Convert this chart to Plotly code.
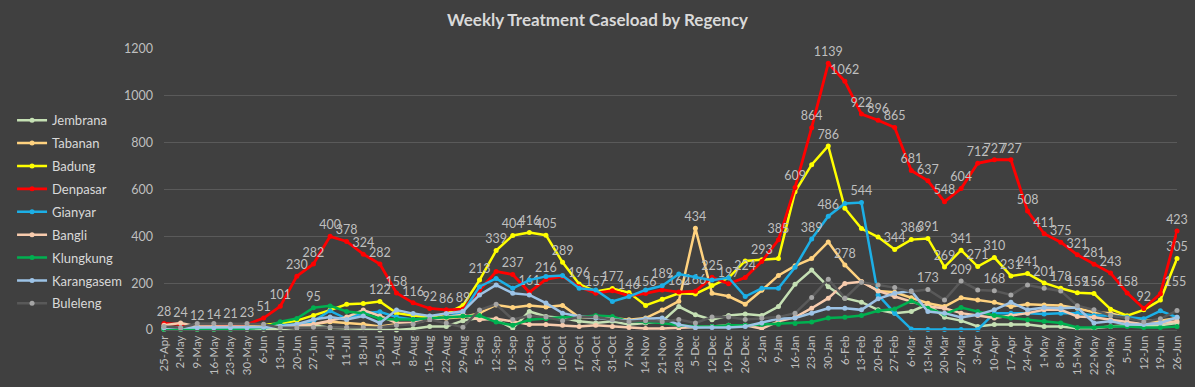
import plotly.graph_objects as go

dates = ["25-Apr","2-May","9-May","16-May","23-May","30-May","6-Jun","13-Jun","20-Jun","27-Jun",
         "4-Jul","11-Jul","18-Jul","25-Jul","1-Aug","8-Aug","15-Aug","22-Aug","29-Aug","5-Sep",
         "12-Sep","19-Sep","26-Sep","3-Oct","10-Oct","17-Oct","24-Oct","31-Oct","7-Nov","14-Nov",
         "21-Nov","28-Nov","5-Dec","12-Dec","19-Dec","26-Dec","2-Jan","9-Jan","16-Jan","23-Jan",
         "30-Jan","6-Feb","13-Feb","20-Feb","27-Feb","6-Mar","13-Mar","20-Mar","27-Mar","3-Apr",
         "10-Apr","17-Apr","24-Apr","1-May","8-May","15-May","22-May","29-May","5-Jun","12-Jun",
         "19-Jun","26-Jun"]

jembrana = [3,3,3,3,3,3,3,3,10,20,10,8,5,0,0,5,15,15,40,
            51,44,8,79,58,51,37,30,37,23,30,37,100,65,44,62,68,62,100,
            195,256,185,136,119,86,72,79,110,54,40,15,23,23,23,15,15,8,8,15,20,15,20,30]
tabanan = [5,5,5,5,8,10,15,18,20,25,35,30,25,15,25,30,45,50,55,
           72,107,96,105,98,105,54,54,51,44,51,85,123,434,157,144,110,170,233,
           274,305,376,278,207,167,161,138,114,100,138,128,118,100,110,107,105,93,76,72,54,40,40,51]
badung = [10,8,8,8,10,15,22,28,40,62,85,110,113,122,72,62,55,70,105,
          213,339,404,416,405,289,196,165,177,160,105,131,157,154,190,223,295,300,305,
          590,706,786,520,433,397,344,386,391,269,341,271,310,231,241,201,178,159,156,89,61,86,128,305]
denpasar = [28,24,12,14,21,23,51,101,230,282,400,378,324,282,158,116,92,86,89,
            170,250,237,161,216,229,185,157,168,146,156,171,162,166,225,197,224,293,385,
            609,864,1139,1062,922,896,865,681,637,548,604,712,727,727,508,411,375,321,281,243,158,92,155,423]
gianyar = [8,8,10,8,8,10,10,20,25,38,82,48,72,78,55,45,45,55,75,
           185,220,178,213,229,233,178,171,122,143,171,189,239,227,213,223,143,178,178,
           268,389,486,540,544,150,72,4,2,2,2,2,72,72,72,68,72,72,62,62,54,48,82,54]
bangli = [20,30,15,15,15,15,15,15,20,25,40,55,85,60,30,30,45,55,65,
          44,48,37,23,23,20,15,20,15,11,6,6,8,11,15,20,20,6,37,
          54,93,136,199,206,167,143,122,100,93,72,62,51,62,72,86,86,58,54,44,34,25,30,37]
klungkung = [3,3,3,3,3,5,10,35,49,95,103,79,72,48,45,45,50,55,60,
             62,34,20,44,48,54,54,62,58,37,34,30,20,15,15,20,20,23,25,
             28,34,51,54,62,82,90,124,93,68,96,79,62,51,44,37,30,11,11,15,15,11,11,15]
karangasem = [10,10,10,10,10,10,12,15,25,45,55,45,60,30,85,70,60,70,80,
              150,192,157,150,115,72,58,51,44,40,48,51,23,11,11,11,15,30,48,
              51,72,93,93,86,133,157,167,79,72,54,65,86,118,86,96,93,96,30,37,23,23,30,54]
buleleng = [15,10,28,28,25,28,25,10,10,12,12,12,12,12,20,25,45,30,12,
            85,110,45,60,55,40,55,55,45,35,40,35,45,30,55,55,45,50,55,
            72,139,217,136,204,192,181,164,173,128,209,171,168,150,192,178,167,104,86,62,51,34,48,83]

# indices of points that carry a data label in the original
label_idx = {
    "Denpasar": list(range(0, 19)) + [21, 22, 23, 26, 28, 29, 31, 32, 33, 34, 35, 36, 37] + list(range(38, 62)),
    "Badung": [13, 19, 20, 21, 22, 23, 24, 25, 27, 40, 44, 45, 46, 47, 48, 49, 50, 51, 52, 53, 54, 55, 56, 61],
    "Gianyar": [30, 39, 40, 42],
    "Tabanan": [32, 41],
    "Klungkung": [9],
    "Buleleng": [46, 48, 50],
}

series = [
    ("Jembrana", jembrana, "#C5E0B4", "#C5E0B4"),
    ("Tabanan", tabanan, "#FFD27F", "#FFD27F"),
    ("Badung", badung, "#FFFF00", "#FFFF00"),
    ("Denpasar", denpasar, "#FF0000", "#FF0000"),
    ("Gianyar", gianyar, "#1CAFE6", "#1CAFE6"),
    ("Bangli", bangli, "#F8CBAD", "#F8CBAD"),
    ("Klungkung", klungkung, "#00B050", "#00B050"),
    ("Karangasem", karangasem, "#9DC3E6", "#9DC3E6"),
    ("Buleleng", buleleng, "#595959", "#A5A5A5"),
]

fig = go.Figure()
for name, vals, lc, mc in series:
    idx = set(label_idx.get(name, []))
    text = [str(v) if i in idx else "" for i, v in enumerate(vals)]
    pos = ["top center"] * len(vals)
    if name == "Denpasar":
        pos[60] = "top right"
    fig.add_trace(go.Scatter(
        x=dates, y=vals, name=name, legendgroup=name,
        mode="lines+markers+text",
        line=dict(color=lc, width=2.8 if name == "Denpasar" else 2.5),
        marker=dict(color=mc, size=5),
        text=text, textposition=pos,
        textfont=dict(color="#BFBFBF", size=12.5, family="Lato, Noto Sans, sans-serif"),
        cliponaxis=False,
    ))

fig.update_layout(
    width=1195, height=387,
    paper_bgcolor="#404040", plot_bgcolor="#404040",
    margin=dict(l=152, r=15, t=49, b=55),
    title=dict(text="<b>Weekly Treatment Caseload by Regency</b>",
               x=0.5, xref="container", xanchor="center", y=0.948, yref="container", yanchor="middle",
               font=dict(color="#D9D9D9", size=17, family="Lato, Noto Sans, sans-serif")),
    font=dict(family="Lato, Noto Sans, sans-serif", color="#BFBFBF"),
    showlegend=True,
    legend=dict(x=-0.15, xref="paper", xanchor="left", y=0.80, yref="paper", yanchor="top",
                bgcolor="rgba(0,0,0,0)", font=dict(color="#D9D9D9", size=13),
                tracegroupgap=3, itemwidth=30),
    xaxis=dict(type="category", range=[0, 61], tickangle=-90, showgrid=False,
               tickfont=dict(size=11.5, color="#BFBFBF"), ticks="", showline=True,
               linecolor="#595959", zeroline=False),
    yaxis=dict(range=[0, 1200], dtick=200, gridcolor="#5A5A5A", gridwidth=1,
               tickfont=dict(size=12.5, color="#BFBFBF"), zeroline=False, ticks="",
               ticklabelstandoff=10),
)

fig.write_html("out.html", config={"displayModeBar": False},
               post_script="document.body.style.margin='0';document.body.style.overflow='hidden';")
